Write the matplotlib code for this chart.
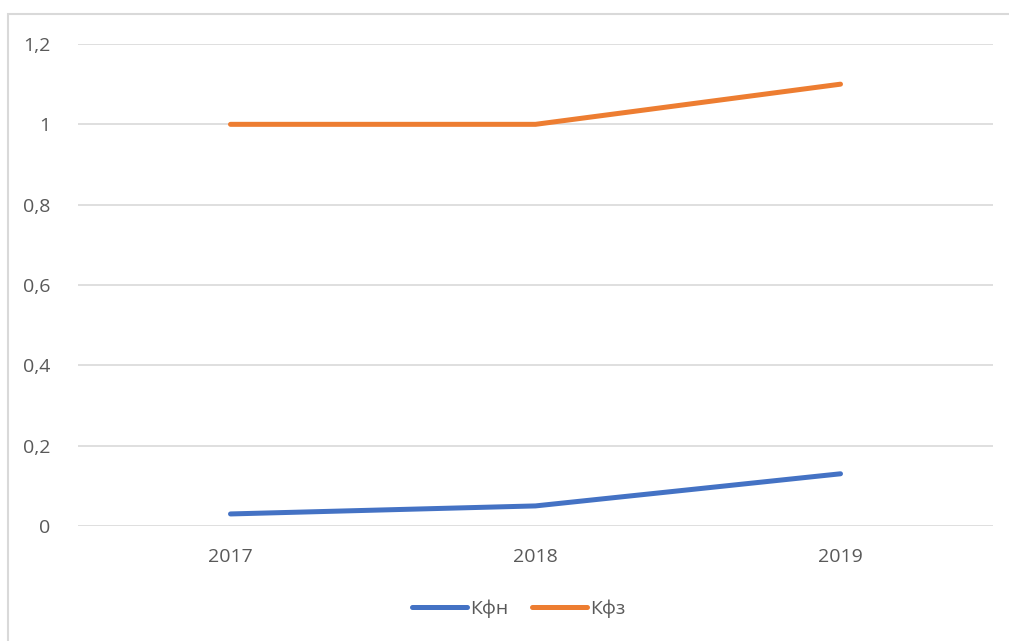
import matplotlib
matplotlib.use("Agg")
import matplotlib.pyplot as plt
from matplotlib.patches import Rectangle

years = ["2017", "2018", "2019"]
kfn = [0.03, 0.05, 0.13]
kfz = [1.0, 1.0, 1.1]
yticks = [0, 0.2, 0.4, 0.6, 0.8, 1.0, 1.2]
ylabels = ["0", "0,2", "0,4", "0,6", "0,8", "1", "1,2"]

plt.rcParams['font.family'] = ['Open Sans', 'DejaVu Sans']
W, H = 1009, 641
fig = plt.figure(figsize=(W/100, H/100), dpi=100)
fig.patch.set_facecolor("white")

# chart border (left & top visible)
fig.add_artist(Rectangle((8/W, -0.1), 1.2, (H-14)/H + 0.1, transform=fig.transFigure,
                         fill=False, edgecolor="#D9D9D9", linewidth=1.5))

ax = fig.add_axes([78/W, (H-526)/H, (993-78)/W, (526-44)/H])
x = range(len(years))
ax.plot(x, kfn, color="#4472C4", linewidth=3.6, solid_capstyle="round", label="Кфн")
ax.plot(x, kfz, color="#ED7D31", linewidth=3.6, solid_capstyle="round", label="Кфз")
ax.set_xlim(-0.5, 2.5)
ax.set_ylim(0, 1.2)
ax.set_yticks(yticks)
ax.set_yticklabels(ylabels)
ax.set_xticks(list(x))
ax.set_xticklabels(years)
ax.grid(axis="y", color="#D9D9D9", linewidth=1.2)
ax.set_axisbelow(True)
for s in ax.spines.values():
    s.set_visible(False)
ax.tick_params(length=0, labelsize=14, labelcolor="#595959")
ax.tick_params(axis="y", pad=20)
ax.tick_params(axis="x", pad=16)

leg = fig.legend(loc="center", bbox_to_anchor=(519/W, (H-609)/H), ncol=2, frameon=False,
                 fontsize=14, handlelength=2.8, handletextpad=0.2, columnspacing=1.2)
for t in leg.get_texts():
    t.set_color("#595959")

fig.savefig("out.png", dpi=100, facecolor="white")
